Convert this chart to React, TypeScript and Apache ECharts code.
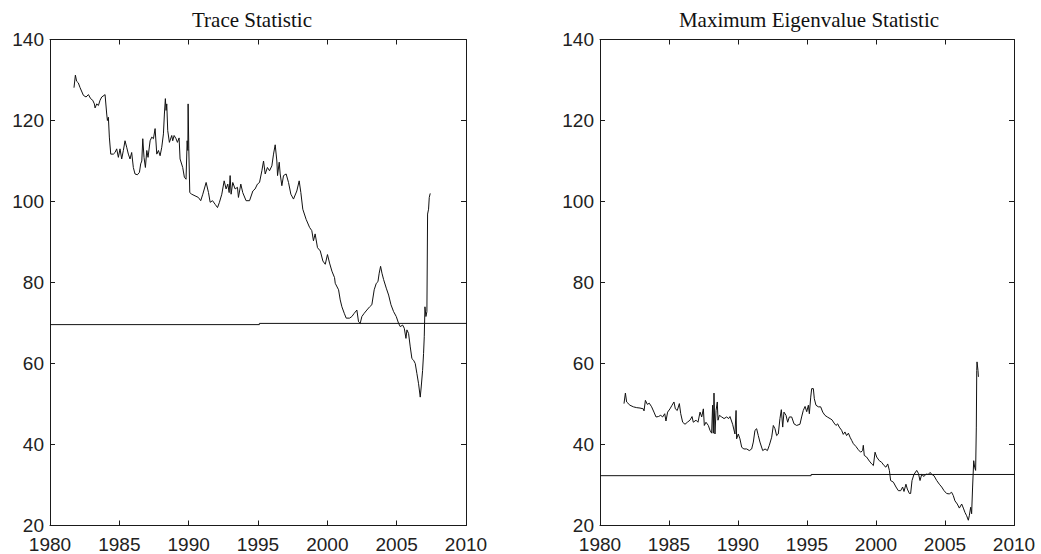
import React, { useEffect, useRef } from "react";
import * as echarts from "echarts";

const traceYears = [
  1981.73, 1981.83, 1981.92, 1982.04, 1982.17, 1982.41, 1982.6, 1982.77, 1982.93, 1983.08,
  1983.2, 1983.25, 1983.37, 1983.49, 1983.61, 1983.73, 1983.9, 1983.97, 1984.09, 1984.14,
  1984.21, 1984.28, 1984.38, 1984.57, 1984.69, 1984.81, 1984.93, 1985.05, 1985.17, 1985.29,
  1985.41, 1985.53, 1985.65, 1985.77, 1985.89, 1986.01, 1986.13, 1986.3, 1986.45, 1986.54,
  1986.62, 1986.69, 1986.78, 1986.88, 1986.98, 1987.07, 1987.22, 1987.34, 1987.46, 1987.58,
  1987.7, 1987.82, 1987.94, 1988.06, 1988.18, 1988.25, 1988.32, 1988.37, 1988.42, 1988.49,
  1988.61, 1988.78, 1988.85, 1988.95, 1989.09, 1989.19, 1989.31, 1989.38, 1989.57, 1989.69,
  1989.81, 1989.89, 1989.94, 1989.96, 1990.01, 1990.08, 1990.22, 1990.46, 1990.7, 1990.87,
  1991.02, 1991.26, 1991.43, 1991.55, 1991.72, 1991.91, 1992.08, 1992.22, 1992.39, 1992.56,
  1992.7, 1992.82, 1992.92, 1992.99, 1993.06, 1993.18, 1993.35, 1993.52, 1993.59, 1993.76,
  1993.9, 1994.14, 1994.39, 1994.63, 1994.79, 1994.96, 1995.11, 1995.28, 1995.4, 1995.52,
  1995.68, 1995.83, 1996.0, 1996.12, 1996.24, 1996.36, 1996.41, 1996.53, 1996.6, 1996.72,
  1996.84, 1997.03, 1997.2, 1997.37, 1997.56, 1997.8, 1997.97, 1998.09, 1998.23, 1998.47,
  1998.72, 1998.88, 1999.0, 1999.12, 1999.29, 1999.49, 1999.68, 1999.85, 2000.01, 2000.16,
  2000.33, 2000.52, 2000.57, 2000.81, 2000.93, 2001.05, 2001.22, 2001.36, 2001.6, 2001.77,
  2001.94, 2002.13, 2002.25, 2002.37, 2002.49, 2002.66, 2002.85, 2003.05, 2003.21, 2003.38,
  2003.53, 2003.65, 2003.74, 2003.84, 2003.94, 2004.06, 2004.25, 2004.42, 2004.59, 2004.78,
  2004.97, 2005.14, 2005.26, 2005.43, 2005.55, 2005.67, 2005.74, 2005.86, 2005.98, 2006.1,
  2006.22, 2006.34, 2006.46, 2006.58, 2006.7, 2006.77, 2006.87, 2006.94, 2006.99, 2007.04,
  2007.11, 2007.18, 2007.23, 2007.3, 2007.35, 2007.42,
];
const traceValues = [
  128.1, 131.2, 129.7, 129.3, 128.1, 126.2, 125.8, 126.4, 125.4, 125.0,
  124.1, 123.1, 124.1, 123.7, 125.0, 125.8, 126.2, 126.4, 121.6, 120.0,
  120.8, 115.9, 111.7, 111.7, 112.1, 113.0, 110.9, 113.0, 110.5, 112.6,
  115.0, 113.4, 111.7, 110.5, 112.1, 108.4, 106.8, 106.6, 107.2, 109.3,
  110.0, 115.5, 110.9, 108.4, 112.6, 110.9, 115.0, 115.9, 115.5, 118.0,
  111.7, 112.6, 111.3, 113.4, 116.7, 121.6, 125.4, 122.5, 124.1, 117.5,
  114.6, 116.3, 115.0, 116.3, 115.5, 114.6, 115.7, 110.5, 108.4, 106.0,
  105.5, 115.0, 112.6, 124.1, 113.0, 102.2, 101.8, 101.4, 101.0, 100.2,
  101.8, 104.7, 102.2, 99.8, 100.2, 99.3, 98.5, 99.8, 101.8, 105.1,
  103.1, 104.3, 102.2, 106.4, 101.8, 104.7, 103.1, 103.5, 101.0, 104.3,
  102.2, 100.2, 100.2, 102.6, 103.1, 104.3, 104.7, 107.6, 110.0, 106.8,
  108.4, 107.6, 108.8, 111.7, 114.0, 110.0, 106.4, 109.7, 106.8, 103.9,
  106.4, 106.8, 104.7, 101.8, 100.6, 102.6, 105.1, 102.2, 98.1, 95.6,
  93.6, 92.8, 90.3, 92.0, 88.6, 87.8, 85.3, 84.5, 86.9, 84.8,
  82.8, 81.2, 79.8, 78.2, 75.7, 74.0, 72.4, 71.2, 71.2, 71.6,
  72.4, 73.2, 70.3, 69.9, 71.6, 72.4, 73.2, 74.0, 74.5, 78.2,
  79.8, 80.2, 82.3, 84.0, 82.3, 80.7, 78.6, 76.9, 74.5, 72.8,
  71.6, 69.9, 69.1, 69.5, 68.7, 66.2, 68.3, 67.4, 64.1, 61.2,
  60.8, 60.0, 57.5, 55.0, 51.7, 54.2, 58.3, 62.5, 66.6, 74.0,
  71.6, 72.8, 96.9, 98.1, 101.0, 102.0,
];

const maxEigYears = [
  1981.74, 1981.84, 1981.93, 1982.17, 1982.42, 1982.66, 1982.9, 1983.14, 1983.19, 1983.29,
  1983.43, 1983.57, 1983.74, 1983.91, 1984.06, 1984.23, 1984.4, 1984.54, 1984.69, 1984.78,
  1984.9, 1985.07, 1985.22, 1985.36, 1985.46, 1985.6, 1985.75, 1985.85, 1985.99, 1986.16,
  1986.33, 1986.52, 1986.67, 1986.76, 1986.96, 1987.1, 1987.25, 1987.37, 1987.49, 1987.56,
  1987.68, 1987.85, 1987.97, 1988.09, 1988.16, 1988.21, 1988.26, 1988.33, 1988.41, 1988.5,
  1988.55, 1988.65, 1988.82, 1988.99, 1989.18, 1989.32, 1989.42, 1989.61, 1989.78, 1989.86,
  1989.9, 1990.02, 1990.14, 1990.27, 1990.43, 1990.63, 1990.82, 1990.99, 1991.11, 1991.23,
  1991.35, 1991.47, 1991.59, 1991.79, 1991.96, 1992.13, 1992.27, 1992.44, 1992.56, 1992.68,
  1992.8, 1992.92, 1993.04, 1993.14, 1993.24, 1993.33, 1993.48, 1993.6, 1993.72, 1993.89,
  1994.06, 1994.25, 1994.49, 1994.61, 1994.73, 1994.86, 1994.98, 1995.1, 1995.17, 1995.27,
  1995.34, 1995.46, 1995.53, 1995.65, 1995.82, 1995.99, 1996.14, 1996.3, 1996.47, 1996.67,
  1996.81, 1996.96, 1997.1, 1997.22, 1997.34, 1997.51, 1997.63, 1997.75, 1997.87, 1998.0,
  1998.12, 1998.24, 1998.36, 1998.55, 1998.72, 1998.89, 1999.03, 1999.08, 1999.15, 1999.32,
  1999.52, 1999.69, 1999.81, 1999.93, 2000.05, 2000.24, 2000.41, 2000.58, 2000.72, 2000.85,
  2000.97, 2001.06, 2001.26, 2001.45, 2001.62, 2001.79, 2001.93, 2002.03, 2002.17, 2002.27,
  2002.42, 2002.51, 2002.61, 2002.75, 2002.95, 2003.07, 2003.19, 2003.31, 2003.48, 2003.62,
  2003.79, 2003.91, 2004.06, 2004.2, 2004.4, 2004.59, 2004.76, 2004.93, 2005.12, 2005.31,
  2005.48, 2005.6, 2005.72, 2005.89, 2006.04, 2006.21, 2006.33, 2006.45, 2006.57, 2006.69,
  2006.76, 2006.86, 2006.93, 2007.0, 2007.08, 2007.15, 2007.22, 2007.27, 2007.3, 2007.32,
  2007.39, 2007.42,
];
const maxEigValues = [
  50.1, 52.7, 50.5, 49.7, 49.3, 49.1, 49.0, 48.8, 48.3, 50.9,
  49.9, 50.2, 49.3, 48.0, 46.8, 46.9, 47.2, 46.8, 47.6, 45.8,
  48.0, 48.8, 49.7, 50.5, 48.8, 48.4, 50.1, 47.6, 45.5, 45.0,
  45.5, 46.0, 46.9, 45.5, 46.0, 45.5, 48.0, 46.8, 48.8, 44.7,
  45.5, 44.7, 43.5, 42.8, 49.7, 42.8, 52.7, 42.6, 48.4, 50.5,
  46.0, 47.2, 46.8, 46.4, 46.8, 46.4, 46.9, 45.0, 42.6, 48.4,
  41.4, 42.6, 41.4, 39.3, 38.9, 38.9, 38.5, 38.9, 40.6, 43.5,
  43.9, 42.2, 40.6, 38.5, 38.9, 38.5, 39.8, 41.8, 44.7, 43.9,
  42.2, 42.6, 46.4, 48.6, 44.3, 48.0, 47.2, 45.5, 46.8, 46.8,
  45.1, 44.7, 45.0, 46.8, 48.4, 49.4, 48.1, 49.7, 47.6, 51.7,
  53.8, 53.8, 51.3, 49.7, 49.3, 49.3, 48.0, 47.2, 46.8, 46.4,
  46.1, 45.3, 44.7, 45.1, 44.3, 43.5, 42.5, 43.1, 42.2, 42.8,
  41.8, 41.0, 40.2, 39.5, 38.7, 38.1, 38.5, 39.8, 37.3, 36.9,
  35.9, 35.2, 34.8, 38.1, 36.9, 36.0, 35.6, 34.8, 34.4, 35.2,
  33.6, 31.1, 30.7, 29.5, 28.6, 28.6, 29.5, 28.4, 30.2, 29.0,
  27.9, 27.9, 31.1, 32.6, 33.6, 32.9, 31.1, 32.6, 32.1, 32.7,
  32.6, 33.1, 32.6, 32.3, 31.1, 30.2, 29.5, 28.6, 27.9, 27.8,
  28.2, 27.4, 26.1, 25.3, 24.3, 25.3, 24.3, 23.2, 22.4, 21.3,
  22.4, 24.5, 22.9, 29.5, 36.0, 34.4, 33.6, 44.3, 58.3, 60.4,
  58.3, 56.7,
];

const traceCritYears = [1980, 1995.1, 1995.1, 2010.3];
const traceCritValues = [69.6, 69.6, 69.9, 69.9];
const maxEigCritYears = [1980, 1995.3, 1995.3, 2010.5];
const maxEigCritValues = [32.3, 32.3, 32.6, 32.6];

const panelTitles = ["Trace Statistic", "Maximum Eigenvalue Statistic"];

const zip = (xs: number[], ys: number[]) => xs.map((x, i) => [x, ys[i]]);

const LABEL_FONT = "'Liberation Sans', Arial, sans-serif";
const AXIS_COLOR = "#1a1a1a";

function xAxisDef(gridIndex: number, top: boolean) {
  return {
    type: "value",
    gridIndex,
    position: top ? "top" : "bottom",
    min: 1980,
    max: 2010,
    interval: 5,
    axisLine: { show: true, onZero: false, lineStyle: { color: AXIS_COLOR, width: 1 } },
    axisTick: { show: true, inside: true, length: 5, lineStyle: { color: AXIS_COLOR } },
    axisLabel: {
      show: !top,
      margin: 12,
      color: "#222",
      fontFamily: LABEL_FONT,
      fontSize: 19,
      lineHeight: 14,
      formatter: (v: number) => String(v),
    },
    splitLine: { show: false },
  };
}

function yAxisDef(gridIndex: number, right: boolean) {
  return {
    type: "value",
    gridIndex,
    position: right ? "right" : "left",
    min: 20,
    max: 140,
    interval: 20,
    axisLine: { show: true, onZero: false, lineStyle: { color: AXIS_COLOR, width: 1 } },
    axisTick: { show: true, inside: true, length: 5, lineStyle: { color: AXIS_COLOR } },
    axisLabel: {
      show: !right,
      margin: 6,
      color: "#222",
      fontFamily: LABEL_FONT,
      fontSize: 19,
      lineHeight: 14,
      formatter: (v: number) => String(v),
    },
    splitLine: { show: false },
  };
}

export default function App() {
  const ref = useRef<HTMLDivElement>(null);

  useEffect(() => {
    if (!ref.current) return;
    const chart = echarts.init(ref.current, undefined, { renderer: "svg" });
    const lineStyle = { color: "#111", width: 1 };
    const titleStyle = {
      fontFamily: "'Liberation Serif', 'Times New Roman', serif",
      fontSize: 21,
      fontWeight: "normal",
      color: "#111",
    };
    chart.setOption({
      animation: false,
      backgroundColor: "#ffffff",
      title: [
        { text: panelTitles[0], left: 247, top: 4, textAlign: "center", textStyle: titleStyle },
        { text: panelTitles[1], left: 804, top: 4, textAlign: "center", textStyle: titleStyle },
      ],
      grid: [
        { left: 50, right: 575, top: 39.5, height: 486.5, containLabel: false },
        { left: 600, right: 27, top: 39.5, height: 486.5, containLabel: false },
      ],
      xAxis: [xAxisDef(0, false), xAxisDef(0, true), xAxisDef(1, false), xAxisDef(1, true)],
      yAxis: [yAxisDef(0, false), yAxisDef(0, true), yAxisDef(1, false), yAxisDef(1, true)],
      series: [
        {
          type: "line",
          xAxisIndex: 0,
          yAxisIndex: 0,
          data: zip(traceYears, traceValues),
          showSymbol: false,
          lineStyle,
        },
        {
          type: "line",
          xAxisIndex: 0,
          yAxisIndex: 0,
          data: zip(traceCritYears, traceCritValues),
          showSymbol: false,
          clip: false,
          lineStyle,
        },
        {
          type: "line",
          xAxisIndex: 2,
          yAxisIndex: 2,
          data: zip(maxEigYears, maxEigValues),
          showSymbol: false,
          lineStyle,
        },
        {
          type: "line",
          xAxisIndex: 2,
          yAxisIndex: 2,
          data: zip(maxEigCritYears, maxEigCritValues),
          showSymbol: false,
          clip: false,
          lineStyle,
        },
      ],
    });
    return () => chart.dispose();
  }, []);

  return (
    <div
      ref={ref}
      style={{ position: "fixed", left: 0, top: 0, width: 1041, height: 554, background: "#fff" }}
    />
  );
}
